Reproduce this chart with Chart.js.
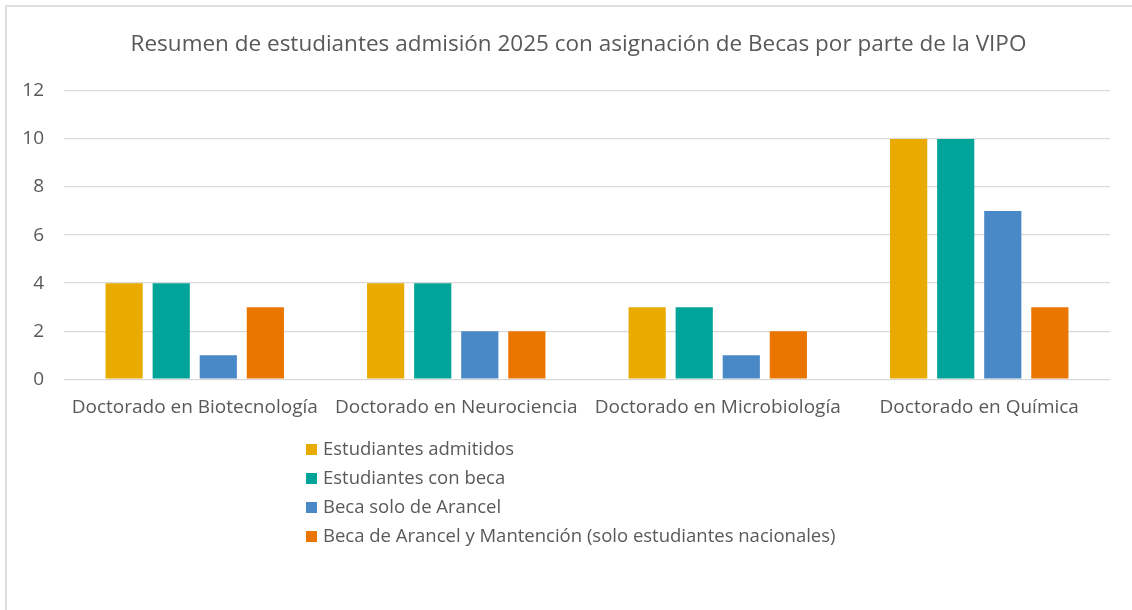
<!DOCTYPE html>
<html>
<head>
<meta charset="utf-8">
<script src="https://cdn.jsdelivr.net/npm/chart.js@4"></script>
<style>
  body { margin: 0; background: #fff; }
  #wrap { position: relative; width: 1132px; height: 610px; overflow: hidden; }
  #frame { position: absolute; left: 5px; top: 5px; width: 1140px; height: 620px; border: 2px solid #dedede; box-sizing: border-box; pointer-events: none; }
  #legend { position: absolute; left: 306px; top: 433px; font-family: "Open Sans", sans-serif; font-size: 18.5px; color: #595959; }
  #legend div { height: 29px; line-height: 29px; white-space: nowrap; }
  #legend span { display: inline-block; width: 11px; height: 11px; margin-right: 6px; vertical-align: 0px; }
</style>
</head>
<body>
<div id="wrap">
  <canvas id="chart1" width="1132" height="610"></canvas>
  <div id="frame"></div>
  <div id="legend"></div>
</div>
<script>
const categories = ["Doctorado en Biotecnología", "Doctorado en Neurociencia", "Doctorado en Microbiología", "Doctorado en Química"];
const admitidos = [4, 4, 3, 10];
const conBeca = [4, 4, 3, 10];
const soloArancel = [1, 2, 1, 7];
const arancelMantencion = [3, 2, 2, 3];
const seriesNames = ["Estudiantes admitidos", "Estudiantes con beca", "Beca solo de Arancel", "Beca de Arancel y Mantención (solo estudiantes nacionales)"];
const colors = ['#EAAB00', '#00A499', '#4A89C8', '#EA7600'];

const font = "'Open Sans', sans-serif";
const textColor = '#595959';

// the title sits centred on the whole frame, not on the plot
const titleShift = {
    id: 'titleShift',
    afterLayout(chart) {
        if (chart.titleBlock) {
            chart.titleBlock.left += 12;
            chart.titleBlock.right += 12;
        }
    }
};

const config = {
    type: 'bar',
    data: {
        labels: categories,
        datasets: [admitidos, conBeca, soloArancel, arancelMantencion].map((d, i) => ({
            label: seriesNames[i],
            data: d,
            backgroundColor: colors[i],
            borderWidth: 0,
            categoryPercentage: 0.72,
            barPercentage: 0.79
        }))
    },
    options: {
        responsive: false,
        animation: false,
        layout: {
            padding: { left: 23, right: 22, top: 0, bottom: 182 }
        },
        plugins: {
            legend: { display: false },
            tooltip: { enabled: false },
            title: {
                display: true,
                text: "Resumen de estudiantes admisión 2025 con asignación de Becas por parte de la VIPO",
                color: textColor,
                font: { family: font, size: 22.5, weight: 'normal' },
                padding: { top: 31, bottom: 33 }
            }
        },
        scales: {
            x: {
                grid: { display: false },
                border: { display: false },
                ticks: {
                    color: textColor,
                    font: { family: font, size: 19 },
                    padding: 9,
                    maxRotation: 0
                }
            },
            y: {
                min: 0,
                max: 12,
                border: { display: false },
                grid: { color: '#d9d9d9', lineWidth: 1.3, drawTicks: false },
                ticks: {
                    stepSize: 2,
                    color: textColor,
                    font: { family: font, size: 19 },
                    padding: 20
                },
                afterFit: (scale) => { scale.width = 41; }
            }
        }
    },
    plugins: [titleShift]
};

const ctx1 = document.getElementById('chart1').getContext('2d');
const chart1 = new Chart(ctx1, config);

// legend below the chart, one series per line
const legend = document.getElementById('legend');
chart1.data.datasets.forEach(ds => {
    const row = document.createElement('div');
    const sw = document.createElement('span');
    sw.style.background = ds.backgroundColor;
    row.appendChild(sw);
    row.appendChild(document.createTextNode(ds.label));
    legend.appendChild(row);
});
</script>
</body>
</html>
